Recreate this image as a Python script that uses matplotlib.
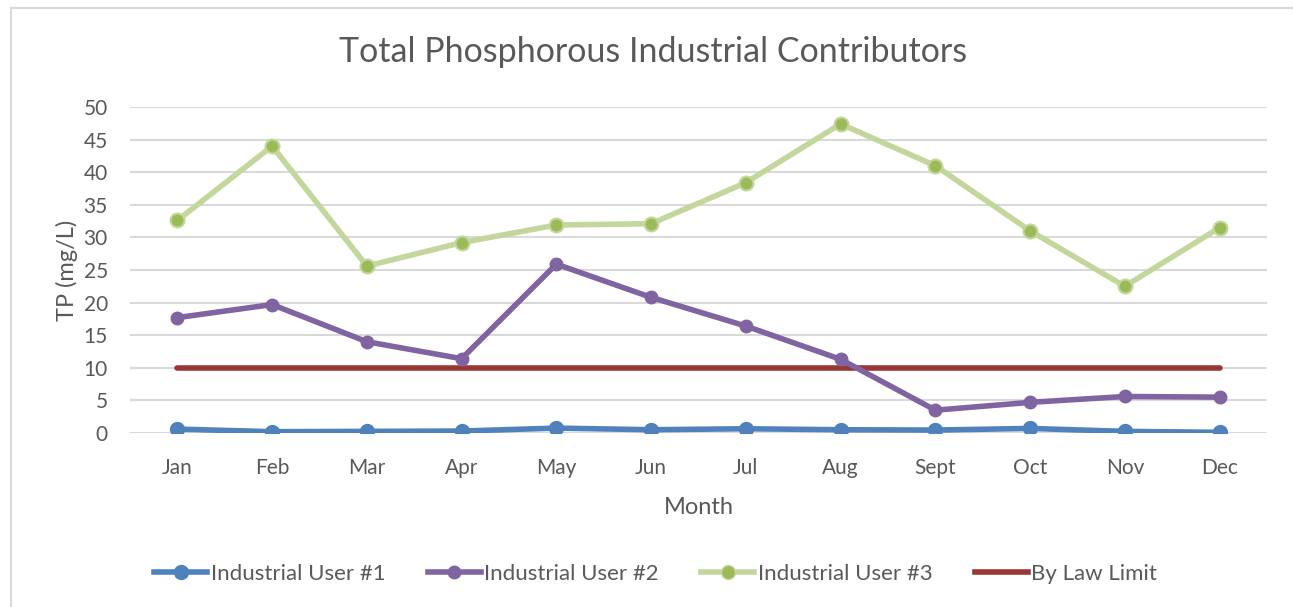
import matplotlib
matplotlib.use('Agg')
import matplotlib.pyplot as plt
from matplotlib.lines import Line2D

# data
months = ['Jan', 'Feb', 'Mar', 'Apr', 'May', 'Jun', 'Jul', 'Aug', 'Sept', 'Oct', 'Nov', 'Dec']
user1 = [0.6, 0.2, 0.25, 0.3, 0.75, 0.5, 0.65, 0.5, 0.45, 0.7, 0.25, 0.1]
user2 = [17.7, 19.7, 14.0, 11.4, 25.9, 20.8, 16.4, 11.3, 3.5, 4.7, 5.6, 5.5]
user3 = [32.6, 44.0, 25.6, 29.2, 31.9, 32.1, 38.4, 47.4, 41.0, 31.0, 22.5, 31.5]
limit = [10] * 12
yticks = [0, 5, 10, 15, 20, 25, 30, 35, 40, 45, 50]

plt.rcParams['font.family'] = ['Lato', 'DejaVu Sans']
txt = '#595959'

fig = plt.figure(figsize=(12.93, 6.07), dpi=100, facecolor='white')
ax = fig.add_axes([130 / 1293, 1 - 433 / 607, (1267 - 130) / 1293, (433 - 107) / 607])

x = list(range(len(months)))
ax.plot(x, limit, color='#993735', lw=4, solid_capstyle='round', zorder=3)
ax.plot(x, user1, color='#4f81bd', lw=4, marker='o', ms=10, mfc='#4f81bd', mec='#4f81bd', zorder=4)
ax.plot(x, user2, color='#8064a2', lw=4, marker='o', ms=9, mfc='#8064a2', mec='#8064a2', zorder=4)
ax.plot(x, user3, color='#c3d69b', lw=4, marker='o', ms=10, mfc='#9bbb59', mec='#c3d69b', mew=1.5, zorder=4)

ax.set_xlim(-0.5, 11.5)
ax.set_ylim(0, 50)
ax.set_yticks(yticks)
ax.set_xticks(x)
ax.set_xticklabels(months)
ax.yaxis.grid(True, color='#d9d9d9', lw=1.5)
ax.set_axisbelow(True)
for s in ['left', 'right', 'top', 'bottom']:
    ax.spines[s].set_visible(False)
ax.tick_params(axis='both', length=0, labelsize=15, colors=txt)
ax.tick_params(axis='y', pad=16)
ax.tick_params(axis='x', pad=18)
ax.set_xlabel('Month', fontsize=17, color=txt, labelpad=14)
ax.set_ylabel('TP (mg/L)', fontsize=17, color=txt, labelpad=4)

fig.text(0.505, 1 - 52 / 607, 'Total Phosphorous Industrial Contributors', ha='center', va='center',
         fontsize=24.5, color=txt)

handles = [
    Line2D([], [], color='#4f81bd', lw=4, marker='o', ms=10),
    Line2D([], [], color='#8064a2', lw=4, marker='o', ms=9),
    Line2D([], [], color='#c3d69b', lw=4, marker='o', ms=10, mfc='#9bbb59', mec='#c3d69b'),
    Line2D([], [], color='#993735', lw=4),
]
labels = ['Industrial User #1', 'Industrial User #2', 'Industrial User #3', 'By Law Limit']
fig.legend(handles, labels, loc='center', bbox_to_anchor=(0.507, 1 - 574 / 607), ncol=4, frameon=False,
           fontsize=16, labelcolor=txt, handlelength=2.4, handletextpad=0.15, columnspacing=1.9)

# chart border (left and top edges visible)
fig.add_artist(Line2D([11 / 1293, 11 / 1293], [0, 1 - 8 / 607], color='#d9d9d9', lw=1.5))
fig.add_artist(Line2D([11 / 1293, 1], [1 - 8 / 607, 1 - 8 / 607], color='#d9d9d9', lw=1.5))

plt.savefig('out.png', dpi=100, facecolor='white')
